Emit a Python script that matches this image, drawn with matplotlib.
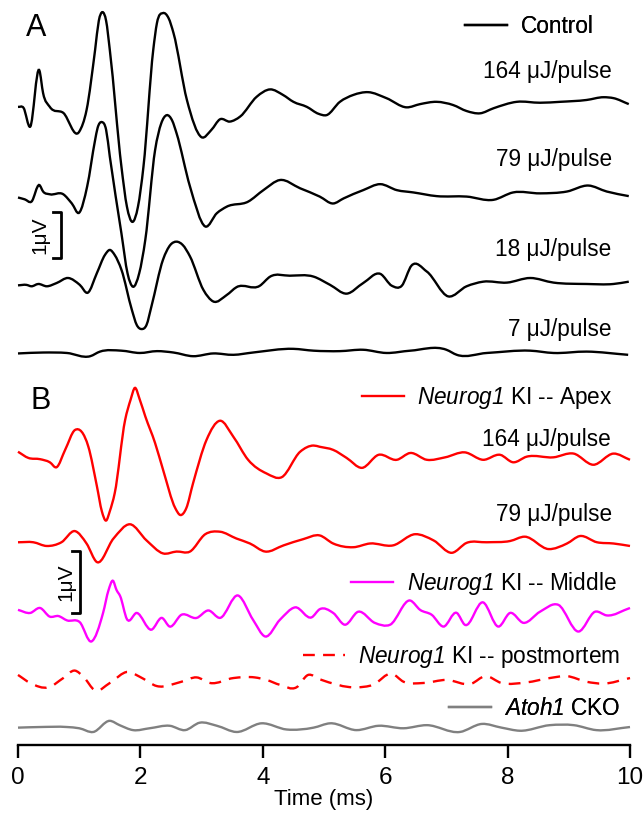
import matplotlib
matplotlib.use("Agg")
import matplotlib.pyplot as plt
from matplotlib.lines import Line2D
from matplotlib.path import Path
from matplotlib.patches import PathPatch
import numpy as np

plt.rcParams['font.family'] = ['Liberation Sans', 'DejaVu Sans']
plt.rcParams['mathtext.fontset'] = 'custom'
plt.rcParams['mathtext.rm'] = 'Liberation Sans:italic'
plt.rcParams['mathtext.it'] = 'Liberation Sans:italic'

# ---- panel A : control, 4 intensities (uV, relative to each baseline) ----
a164_t = [0, 0.09, 0.2, 0.35, 0.41, 0.52, 0.74, 1.0, 1.12, 1.26, 1.32, 1.38, 1.44, 1.5, 1.69,
          1.78, 1.87, 1.96, 2.05, 2.21, 2.27, 2.37, 2.46, 2.54, 2.76, 3.0, 3.16, 3.3, 3.46, 3.63,
          3.9, 4.12, 4.33, 4.5, 4.72, 4.91, 5.04, 5.26, 5.48, 5.72, 6.02, 6.35, 6.57, 6.84, 7.11,
          7.33, 7.55, 7.77, 8.15, 8.53, 8.86, 9.29, 9.57, 9.73, 9.98]
a164_v = [-0.02, -0.04, -0.45, 0.77, 0.28, -0.02, -0.15, -0.56, -0.09, 1.22, 1.85, 2.04, 1.85, 1.22, -1.32,
          -2.19, -2.52, -2.19, -1.32, 1.22, 1.80, 2.02, 1.91, 1.59, 0.13, -0.68, -0.52, -0.29, -0.34, -0.23,
          0.20, 0.36, 0.24, 0.09, -0.02, -0.17, -0.20, 0.09, 0.24, 0.30, 0.17, -0.03, 0.04, 0.09, 0.02,
          -0.11, -0.16, -0.05, 0.09, 0.07, 0.09, 0.13, 0.19, 0.17, 0.04]

a79_t = [0, 0.11, 0.22, 0.35, 0.41, 0.52, 0.74, 0.88, 1.0, 1.13, 1.26, 1.30, 1.37, 1.44, 1.5,
         1.69, 1.79, 1.88, 1.98, 2.08, 2.24, 2.34, 2.43, 2.52, 2.59, 2.81, 3.06, 3.25, 3.41, 3.76,
         4.01, 4.28, 4.61, 4.93, 5.15, 5.32, 5.64, 5.92, 6.19, 6.46, 6.84, 7.33, 7.77, 8.09, 8.53,
         8.97, 9.32, 9.62, 9.98]
a79_v = [0.01, -0.03, -0.08, 0.28, 0.14, 0.08, 0.08, -0.12, -0.32, 0.25, 1.26, 1.52, 1.65, 1.48, 0.90,
         -0.77, -1.64, -1.93, -1.64, -0.91, 1.04, 1.62, 1.80, 1.68, 1.41, 0.25, -0.62, -0.33, -0.19, -0.08,
         0.17, 0.39, 0.21, 0.03, -0.12, -0.01, 0.17, 0.30, 0.17, 0.12, 0.04, 0.03, -0.04, 0.12, 0.10,
         0.14, 0.27, 0.14, 0.04]

a18_t = [0, 0.14, 0.22, 0.33, 0.47, 0.63, 0.82, 1.01, 1.14, 1.29, 1.42, 1.5, 1.58, 1.69, 1.86,
         1.94, 2.02, 2.10, 2.18, 2.37, 2.49, 2.59, 2.69, 2.81, 3.03, 3.19, 3.41, 3.57, 3.95, 4.12,
         4.44, 4.83, 5.1, 5.37, 5.64, 5.92, 6.11, 6.27, 6.43, 6.68, 7.03, 7.33, 7.6, 7.99, 8.37,
         8.75, 9.29, 9.73, 9.98]
a18_v = [0.01, 0.02, -0.01, 0.04, -0.01, 0.06, 0.17, 0.02, -0.15, 0.28, 0.67, 0.78, 0.67, 0.35, -0.52,
         -0.85, -0.94, -0.85, -0.45, 0.57, 0.89, 0.96, 0.89, 0.64, -0.09, -0.34, -0.20, -0.03, 0.0, 0.20,
         0.22, 0.20, 0.02, -0.17, 0.06, 0.26, 0.0, 0.0, 0.44, 0.31, -0.23, -0.01, 0.09, 0.07, 0.17,
         0.07, 0.04, 0.04, 0.09]

a7_t = [0, 0.41, 0.8, 1.18, 1.34, 1.69, 1.99, 2.27, 2.54, 2.86, 3.19, 3.52, 3.84, 4.5, 4.83,
        5.26, 5.64, 6.02, 6.41, 7.0, 7.17, 7.66, 8.37, 8.75, 9.29, 9.97]
a7_v = [-0.01, 0.01, 0.0, -0.07, 0.03, 0.05, 0.0, 0.04, 0.01, -0.07, -0.01, -0.04, 0.01, 0.09, 0.05,
        0.04, 0.07, 0.0, 0.05, 0.07, -0.04, 0.0, 0.05, 0.0, 0.03, -0.04]

a_traces = [(a164_t, a164_v), (a79_t, a79_v), (a18_t, a18_v), (a7_t, a7_v)]
a_offsets = [5.74, 3.74, 1.83, 0.37]
a_labels = ['164 μJ/pulse', '79 μJ/pulse', '18 μJ/pulse', '7 μJ/pulse']
a_label_y = [6.49, 4.57, 2.61, 0.87]

# ---- panel B ----
b164_t = [0, 0.17, 0.36, 0.52, 0.63, 0.77, 0.93, 1.15, 1.29, 1.37, 1.44, 1.50, 1.58, 1.75, 1.84,
          1.91, 1.99, 2.08, 2.24, 2.37, 2.57, 2.65, 2.75, 2.86, 3.08, 3.30, 3.52, 3.76, 4.06, 4.31,
          4.61, 4.83, 4.93, 5.15, 5.37, 5.62, 5.89, 6.19, 6.41, 6.68, 6.98, 7.3, 7.6, 7.88, 8.09,
          8.31, 8.75, 9.08, 9.4, 9.73, 10]
b164_v = [0.05, -0.05, -0.07, -0.12, -0.20, 0.08, 0.40, 0.13, -0.51, -0.91, -1.06, -0.91, -0.62, 0.56, 0.89,
          1.08, 0.89, 0.62, 0.19, -0.24, -0.86, -0.97, -0.86, -0.46, 0.24, 0.55, 0.29, -0.08, -0.30, -0.36,
          0.05, 0.15, 0.13, 0.08, -0.05, -0.21, 0.0, -0.08, 0.03, -0.08, -0.04, 0.04, -0.08, 0.0, -0.12,
          -0.03, -0.04, 0.02, -0.16, 0.02, -0.08]

b79_t = [0, 0.25, 0.47, 0.71, 0.93, 1.12, 1.29, 1.56, 1.83, 2.1, 2.37, 2.59, 2.81, 3.06, 3.30,
         3.57, 3.79, 4.04, 4.34, 4.66, 4.93, 5.15, 5.48, 5.75, 6.13, 6.49, 6.79, 7.09, 7.33, 7.66,
         8.04, 8.28, 8.67, 8.97, 9.18, 9.46, 9.73, 10]
b79_v = [0.0, 0.0, -0.06, 0.0, 0.18, -0.02, -0.32, 0.06, 0.29, 0.03, -0.18, -0.15, -0.15, 0.13, 0.17,
         0.06, -0.02, -0.15, -0.05, 0.05, 0.11, -0.02, -0.08, -0.02, -0.05, 0.13, 0.03, -0.17, -0.01, 0.0,
         0.02, 0.09, -0.11, -0.02, 0.10, 0.0, -0.02, -0.06]

mid_t = [0, 0.2, 0.36, 0.52, 0.66, 0.8, 1.01, 1.2, 1.39, 1.48, 1.55, 1.61, 1.67, 1.78, 1.94,
         2.18, 2.35, 2.48, 2.67, 2.92, 3.11, 3.3, 3.6, 3.84, 4.04, 4.28, 4.53, 4.8, 4.93, 5.15,
         5.34, 5.56, 5.83, 6.08, 6.41, 6.57, 6.76, 6.95, 7.17, 7.3, 7.6, 7.85, 8.04, 8.26, 8.53,
         8.83, 9.16, 9.43, 9.62, 10]
mid_v = [0.03, -0.02, 0.06, -0.08, -0.07, -0.14, -0.17, -0.48, -0.02, 0.35, 0.50, 0.35, 0.25, -0.12, -0.02,
         -0.29, -0.10, -0.24, -0.05, -0.10, 0.02, -0.10, 0.26, -0.13, -0.40, -0.13, 0.07, -0.09, 0.04, -0.02,
         -0.21, 0.0, -0.18, -0.21, 0.18, 0.03, -0.05, -0.24, -0.02, -0.21, 0.15, -0.24, -0.02, -0.18, 0.0,
         0.11, -0.32, 0.0, -0.06, 0.06]

pm_t = [0, 0.2, 0.5, 0.74, 0.93, 1.07, 1.26, 1.5, 1.8, 1.99, 2.27, 2.67, 2.92, 3.14, 3.52,
        3.87, 4.06, 4.28, 4.55, 4.74, 4.93, 5.53, 5.8, 6.11, 6.3, 6.62, 7.0, 7.41, 7.63, 7.9,
        8.31, 8.69, 8.97, 9.29, 9.56, 10]
pm_v = [0.08, -0.05, -0.12, 0.03, 0.15, 0.05, -0.17, -0.05, 0.13, 0.05, -0.10, -0.03, 0.04, -0.05, 0.03,
        0.04, 0.0, -0.08, -0.12, 0.08, 0.01, -0.12, -0.08, 0.10, -0.03, -0.05, 0.0, -0.06, 0.06, -0.05,
        -0.04, 0.03, 0.06, -0.03, -0.06, 0.03]

cko_t = [0, 0.36, 0.8, 1.0, 1.23, 1.5, 1.66, 1.88, 2.15, 2.48, 2.73, 2.97, 3.25, 3.57, 3.98,
         4.39, 4.83, 5.1, 5.53, 5.89, 6.3, 6.68, 7.22, 7.58, 7.9, 8.2, 8.69, 9.08, 9.45, 10]
cko_v = [-0.01, 0.0, 0.0, -0.02, -0.08, 0.10, 0.03, -0.05, -0.02, 0.02, -0.05, 0.07, 0.02, -0.08, 0.06,
         -0.04, -0.01, 0.06, -0.05, 0.02, -0.02, 0.03, -0.08, 0.05, -0.01, -0.06, 0.03, 0.03, -0.05, 0.0]

b_traces = [(b164_t, b164_v), (b79_t, b79_v), (mid_t, mid_v), (pm_t, pm_v), (cko_t, cko_v)]
b_offsets = [4.68, 3.27, 2.15, 1.05, 0.29]
b_colors = ['#ff0000', '#ff0000', '#ff00ff', '#ff0000', '#808080']
b_styles = ['-', '-', '-', '--', '-']

DASH = (0, (5, 3.5))
lw = 1.7
fs = 16.3


def smooth_trace(ax, t, v, **kw):
    # draw the read points joined by cubic Bezier pieces (Hermite slopes)
    x = np.asarray(t, float)
    y = np.asarray(v, float)
    m = np.gradient(y, x)
    verts = [(x[0], y[0])]
    codes = [Path.MOVETO]
    for i in range(len(x) - 1):
        h = (x[i + 1] - x[i]) / 3
        verts += [(x[i] + h, y[i] + m[i] * h), (x[i + 1] - h, y[i + 1] - m[i + 1] * h), (x[i + 1], y[i + 1])]
        codes += [Path.CURVE4] * 3
    ax.add_patch(PathPatch(Path(verts, codes), fill=False, clip_on=False, **kw))


W, H = 644, 813
fig = plt.figure(figsize=(W / 100, H / 100), dpi=100)
left, width = 18 / W, 612 / W
axA = fig.add_axes([left, (H - 370) / H, width, 370 / H])
axB = fig.add_axes([left, (H - 745) / H, width, 375 / H])
axA.set_ylim(0, 370 / 46)   # 46 px per uV
axB.set_ylim(0, 375 / 62)   # 62 px per uV
for ax in (axA, axB):
    ax.set_xlim(0, 10)
    for s in ['top', 'right', 'left']:
        ax.spines[s].set_visible(False)
    ax.set_yticks([])
axA.spines['bottom'].set_visible(False)
axA.set_xticks([])

for (t, v), off in zip(a_traces, a_offsets):
    smooth_trace(axA, t, np.array(v) + off, edgecolor='black', lw=lw)
for (t, v), off, c, ls in zip(b_traces, b_offsets, b_colors, b_styles):
    smooth_trace(axB, t, np.array(v) + off, edgecolor=c, lw=lw,
                 linestyle=DASH if ls == '--' else '-')

# panel letters
axA.text(0.13, 7.43, 'A', fontsize=22, va='center', ha='left')
axB.text(0.21, 5.55, 'B', fontsize=22, va='center', ha='left')

# intensity labels
for lab, y in zip(a_labels, a_label_y):
    axA.text(9.70, y, lab, fontsize=fs, ha='right', va='center')
axB.text(9.69, 4.92, '164 μJ/pulse', fontsize=fs, ha='right', va='center')
axB.text(9.71, 3.71, '79 μJ/pulse', fontsize=fs, ha='right', va='center')


def key(ax, x, y, color, ls, text):
    h = Line2D([], [], color=color, lw=lw, linestyle=DASH if ls == '--' else '-')
    leg = ax.legend([h], [text], loc='center right', bbox_to_anchor=(x, y),
                    bbox_transform=ax.transData, frameon=False, fontsize=fs,
                    handlelength=1.85, handletextpad=0.6, borderpad=0, borderaxespad=0)
    ax.add_artist(leg)


key(axA, 9.40, 7.46, 'black', '-', 'Control')
key(axB, 9.72, 5.59, '#ff0000', '-', r'$Neurog1$ KI -- Apex')
key(axB, 9.78, 2.60, '#ff00ff', '-', r'$Neurog1$ KI -- Middle')
key(axB, 9.84, 1.42, '#ff0000', '--', r'$Neurog1$ KI -- postmortem')
key(axB, 9.85, 0.59, '#808080', '-', r'$Atoh1$ CKO')

# 1 uV scale bars
sx_a, sy_a = 0.70, 2.43
axA.plot([sx_a - 0.13, sx_a, sx_a, sx_a - 0.13], [sy_a, sy_a, sy_a + 1, sy_a + 1], color='black', lw=2)
axA.text(0.35, sy_a + 0.5, '1μV', rotation=90, fontsize=15, ha='center', va='center')
sx_b, sy_b = 1.01, 2.13
axB.plot([sx_b - 0.13, sx_b, sx_b, sx_b - 0.13], [sy_b, sy_b, sy_b + 1, sy_b + 1], color='black', lw=2)
axB.text(0.78, sy_b + 0.5, '1μV', rotation=90, fontsize=15, ha='center', va='center')

axB.spines['bottom'].set_linewidth(1.7)
axB.set_xticks([0, 2, 4, 6, 8, 10])
axB.tick_params(axis='x', direction='out', length=9, width=1.7, pad=7, labelsize=17.5)
axB.set_xlabel('Time (ms)', fontsize=16)
axB.xaxis.set_label_coords(0.5, -0.117)

fig.savefig('out.png', dpi=100)
